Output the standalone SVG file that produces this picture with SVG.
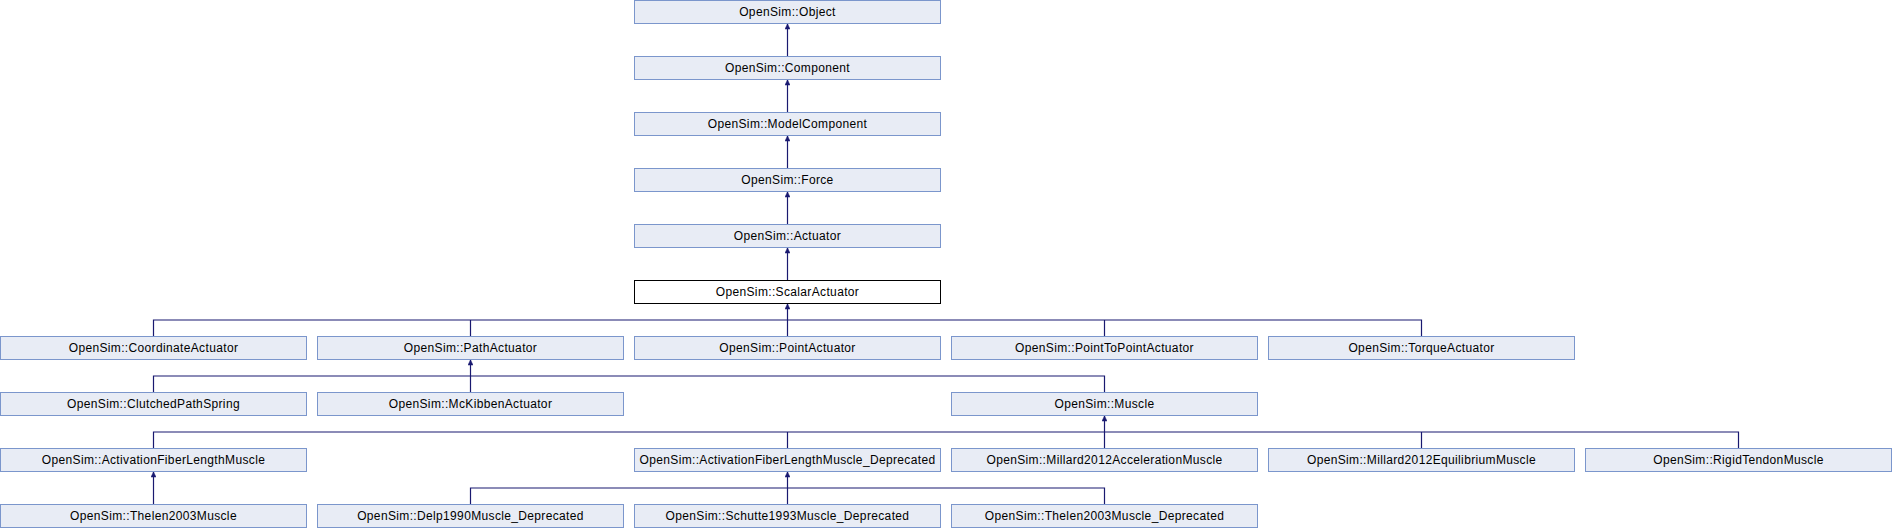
<svg xmlns="http://www.w3.org/2000/svg" width="1892" height="528" viewBox="0 0 1892 528">
<defs>
<style>
.n rect{fill:#E8ECF5;stroke:#7B96CC;stroke-width:1}
.n.cur rect{fill:#FFFFFF;stroke:#000000}
.n text{font-family:"Liberation Sans",Arial,sans-serif;font-size:12px;letter-spacing:0.35px;fill:#000;text-anchor:middle}
#edges path{fill:none;stroke:#191970;stroke-width:1.2}
#edges path.a{marker-end:url(#arr)}
</style>
<marker id="arr" viewBox="0 0 10 10" refX="10" refY="5" markerUnits="userSpaceOnUse" markerWidth="7" markerHeight="5" orient="auto">
<path d="M0,0 L10,5 L0,10 z" fill="#191970" stroke="#191970"/>
</marker>
</defs>
<rect width="1892" height="528" fill="#fff"/>
<g id="edges">
<path class="a" d="M787.5,56 V24"/>
<path class="a" d="M787.5,112 V80"/>
<path class="a" d="M787.5,168 V136"/>
<path class="a" d="M787.5,224 V192"/>
<path class="a" d="M787.5,280 V248"/>
<path class="a" d="M787.5,320 V304"/>
<path d="M153.5,336 V320 H1421.5 V336 M470.5,320 V336 M787.5,320 V336 M1104.5,320 V336"/>
<path class="a" d="M470.5,376 V360"/>
<path d="M153.5,392 V376 H1104.5 V392 M470.5,376 V392"/>
<path class="a" d="M1104.5,432 V416"/>
<path d="M153.5,448 V432 H1738.5 V448 M787.5,432 V448 M1104.5,432 V448 M1421.5,432 V448"/>
<path class="a" d="M153.5,504 V472"/>
<path class="a" d="M787.5,488 V472"/>
<path d="M470.5,504 V488 H1104.5 V504 M787.5,488 V504"/>
</g>
<g id="n_object" class="n"><rect x="634.5" y="0.5" width="306" height="23"/><text x="787.5" y="16">OpenSim::Object</text></g>
<g id="n_component" class="n"><rect x="634.5" y="56.5" width="306" height="23"/><text x="787.5" y="72">OpenSim::Component</text></g>
<g id="n_modelcomponent" class="n"><rect x="634.5" y="112.5" width="306" height="23"/><text x="787.5" y="128">OpenSim::ModelComponent</text></g>
<g id="n_force" class="n"><rect x="634.5" y="168.5" width="306" height="23"/><text x="787.5" y="184">OpenSim::Force</text></g>
<g id="n_actuator" class="n"><rect x="634.5" y="224.5" width="306" height="23"/><text x="787.5" y="240">OpenSim::Actuator</text></g>
<g id="n_scalaractuator" class="n cur"><rect x="634.5" y="280.5" width="306" height="23"/><text x="787.5" y="296">OpenSim::ScalarActuator</text></g>
<g id="n_coordinateactuator" class="n"><rect x="0.5" y="336.5" width="306" height="23"/><text x="153.5" y="352">OpenSim::CoordinateActuator</text></g>
<g id="n_pathactuator" class="n"><rect x="317.5" y="336.5" width="306" height="23"/><text x="470.5" y="352">OpenSim::PathActuator</text></g>
<g id="n_pointactuator" class="n"><rect x="634.5" y="336.5" width="306" height="23"/><text x="787.5" y="352">OpenSim::PointActuator</text></g>
<g id="n_pointtopointactuator" class="n"><rect x="951.5" y="336.5" width="306" height="23"/><text x="1104.5" y="352">OpenSim::PointToPointActuator</text></g>
<g id="n_torqueactuator" class="n"><rect x="1268.5" y="336.5" width="306" height="23"/><text x="1421.5" y="352">OpenSim::TorqueActuator</text></g>
<g id="n_clutchedpathspring" class="n"><rect x="0.5" y="392.5" width="306" height="23"/><text x="153.5" y="408">OpenSim::ClutchedPathSpring</text></g>
<g id="n_mckibbenactuator" class="n"><rect x="317.5" y="392.5" width="306" height="23"/><text x="470.5" y="408">OpenSim::McKibbenActuator</text></g>
<g id="n_muscle" class="n"><rect x="951.5" y="392.5" width="306" height="23"/><text x="1104.5" y="408">OpenSim::Muscle</text></g>
<g id="n_afl" class="n"><rect x="0.5" y="448.5" width="306" height="23"/><text x="153.5" y="464">OpenSim::ActivationFiberLengthMuscle</text></g>
<g id="n_afl_dep" class="n"><rect x="634.5" y="448.5" width="306" height="23"/><text x="787.5" y="464">OpenSim::ActivationFiberLengthMuscle_Deprecated</text></g>
<g id="n_millard_acc" class="n"><rect x="951.5" y="448.5" width="306" height="23"/><text x="1104.5" y="464">OpenSim::Millard2012AccelerationMuscle</text></g>
<g id="n_millard_eq" class="n"><rect x="1268.5" y="448.5" width="306" height="23"/><text x="1421.5" y="464">OpenSim::Millard2012EquilibriumMuscle</text></g>
<g id="n_rigidtendon" class="n"><rect x="1585.5" y="448.5" width="306" height="23"/><text x="1738.5" y="464">OpenSim::RigidTendonMuscle</text></g>
<g id="n_thelen" class="n"><rect x="0.5" y="504.5" width="306" height="23"/><text x="153.5" y="520">OpenSim::Thelen2003Muscle</text></g>
<g id="n_delp" class="n"><rect x="317.5" y="504.5" width="306" height="23"/><text x="470.5" y="520">OpenSim::Delp1990Muscle_Deprecated</text></g>
<g id="n_schutte" class="n"><rect x="634.5" y="504.5" width="306" height="23"/><text x="787.5" y="520">OpenSim::Schutte1993Muscle_Deprecated</text></g>
<g id="n_thelen_dep" class="n"><rect x="951.5" y="504.5" width="306" height="23"/><text x="1104.5" y="520">OpenSim::Thelen2003Muscle_Deprecated</text></g>
</svg>
